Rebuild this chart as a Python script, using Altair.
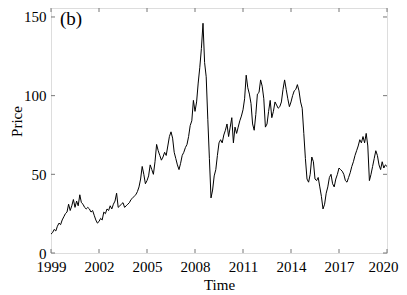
import altair as alt
import pandas as pd

# Price values, one every 0.1 year from 1999.0 to 2020.0
price = [
    12, 13, 15, 14, 17, 19, 18, 21, 23, 25,          # 1999
    26, 31, 27, 30, 34, 29, 33, 30, 37, 32,          # 2000
    31, 29, 28, 29, 28, 26, 27, 24, 21, 19,          # 2001
    20, 22, 21, 26, 25, 28, 27, 30, 28, 31,          # 2002
    33, 38, 29, 30, 31, 32, 29, 30, 31, 32,          # 2003
    34, 35, 36, 37, 39, 42, 47, 55, 50, 44,          # 2004
    46, 49, 56, 53, 50, 58, 69, 65, 62, 59,          # 2005
    61, 64, 62, 68, 74, 77, 73, 64, 60, 56,          # 2006
    53, 57, 62, 64, 67, 69, 74, 81, 84, 97,          # 2007
    90, 96, 108, 118, 130, 146, 121, 112, 85, 60,    # 2008
    35, 40, 49, 53, 62, 70, 72, 70, 75, 78,          # 2009
    82, 74, 80, 86, 70, 80, 76, 80, 84, 87,          # 2010
    91, 98, 113, 105, 101, 95, 82, 78, 88, 101,      # 2011
    102, 110, 106, 98, 80, 82, 90, 97, 86, 90,       # 2012
    96, 94, 92, 93, 96, 104, 110, 104, 98, 93,       # 2013
    96, 100, 103, 104, 107, 103, 96, 92, 76, 60,     # 2014
    47, 45, 50, 61, 58, 47, 46, 48, 42, 36,          # 2015
    28, 31, 38, 42, 48, 50, 44, 42, 47, 50,          # 2016
    54, 53, 52, 50, 46, 45, 48, 51, 55, 58,          # 2017
    62, 65, 68, 72, 70, 74, 70, 76, 68, 46,          # 2018
    50, 55, 60, 65, 62, 56, 53, 58, 54, 56,          # 2019
    55,                                              # 2020
]
time = [round(1999 + 0.1 * i, 1) for i in range(len(price))]

x_ticks = [1999, 2002, 2005, 2008, 2011, 2014, 2017, 2020]
y_ticks = [0, 50, 100, 150]

df = pd.DataFrame({"Time": time, "Price": price})
xt = pd.DataFrame({"t": x_ticks})
yt = pd.DataFrame({"p": y_ticks})

W, H = 336, 245
FONT = "Liberation Serif"
FRAME = "#777777"
TL = 4

xscale = alt.Scale(domain=[1999, 2020], nice=False, zero=False)
yscale = alt.Scale(domain=[0, 155.7], nice=False)

line = alt.Chart(df).mark_line(color="black", strokeWidth=1).encode(
    x=alt.X("Time:Q", scale=xscale,
            axis=alt.Axis(values=x_ticks, format="d", tickSize=0, domain=False,
                          grid=False, labelFont=FONT, labelFontSize=15,
                          labelColor="black", labelPadding=6, labelFlush=False,
                          labelOverlap=False,
                          labelOffset={"condition": {"test": "datum.value == 2020", "value": -4}, "value": 0},
                          title="Time",
                          titleFont=FONT, titleFontSize=15, titleFontWeight="normal",
                          titleColor="black", titlePadding=3)),
    y=alt.Y("Price:Q", scale=yscale,
            axis=alt.Axis(values=y_ticks, tickSize=0, domain=False, grid=False,
                          labelFont=FONT, labelFontSize=15, labelColor="black",
                          labelPadding=5, labelFlush=False, labelOverlap=False,
                          title="Price", titleFont=FONT,
                          titleFontSize=15, titleFontWeight="normal",
                          titleColor="black", titleX=-27, titleY=113)),
)

xb = alt.Chart(xt).mark_rule(color=FRAME, strokeWidth=1).encode(
    x=alt.X("t:Q", scale=xscale), y=alt.value(H), y2=alt.value(H - TL))
xtop = alt.Chart(xt).mark_rule(color=FRAME, strokeWidth=1).encode(
    x=alt.X("t:Q", scale=xscale), y=alt.value(0), y2=alt.value(TL))
yl = alt.Chart(yt).mark_rule(color=FRAME, strokeWidth=1).encode(
    y=alt.Y("p:Q", scale=yscale), x=alt.value(0), x2=alt.value(TL))
yr = alt.Chart(yt).mark_rule(color=FRAME, strokeWidth=1).encode(
    y=alt.Y("p:Q", scale=yscale), x=alt.value(W), x2=alt.value(W - TL))

label = alt.Chart(pd.DataFrame({"s": ["(b)"]})).mark_text(
    font=FONT, fontSize=19, align="left", baseline="alphabetic", color="black"
).encode(text="s:N", x=alt.value(9), y=alt.value(17))

chart = alt.layer(line, xb, xtop, yl, yr, label).properties(
    width=W, height=H,
    autosize=alt.AutoSizeParams(type="none"),
    padding={"left": 43, "top": 0, "right": 12, "bottom": 40},
).configure_view(stroke=FRAME, strokeWidth=1).configure(background="white")

chart.save("out.html", embed_options={"renderer": "svg", "actions": False})
